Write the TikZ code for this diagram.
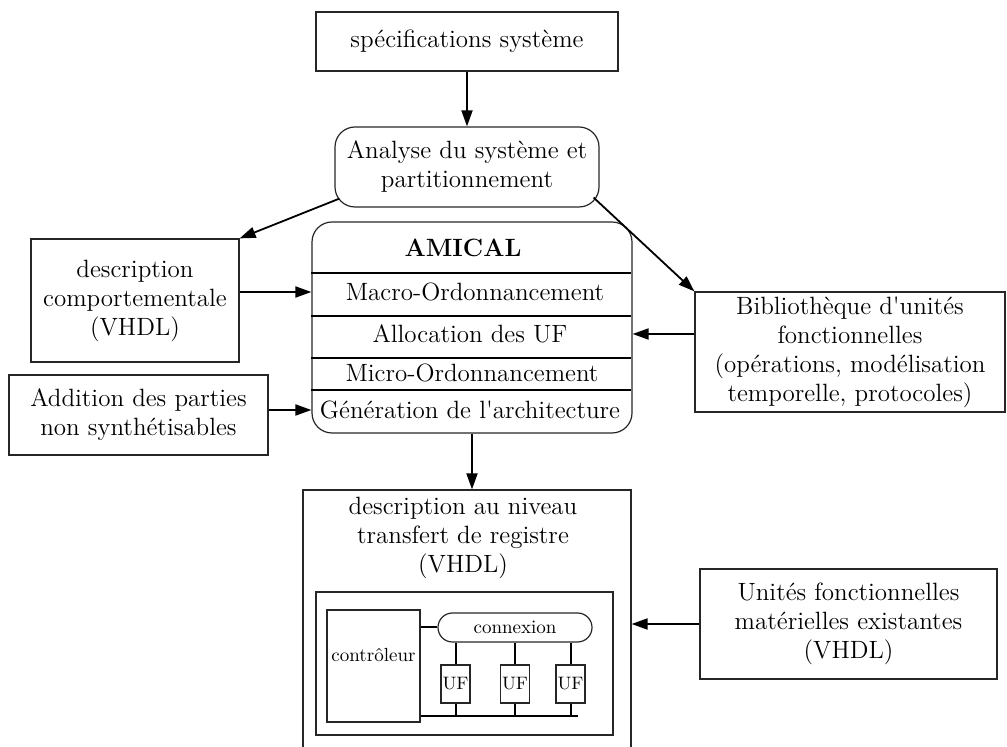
\documentclass[tikz,border=0pt]{standalone}
\usepackage{tikz}
\usetikzlibrary{arrows.meta,shapes}
\usepackage{amsmath}

\tikzset{
	box/.style={draw=black!85, line width=0.6pt, align=center, inner sep=0pt, font=\fontsize{12.5}{14.5}\selectfont},
	rbox/.style={box, rounded corners=10pt},
	txt/.style={align=center, inner sep=0pt, font=\fontsize{12.5}{14.5}\selectfont},
	smallf/.style={font=\fontsize{9.5}{11}\selectfont},
	arr/.style={-{Triangle[length=8pt,width=5.5pt]}, line width=0.9pt},
	sepline/.style={line width=1pt},
}

\begin{document}
\begin{tikzpicture}[x=0.5pt, y=-0.5pt]
	\useasboundingbox (0,0) rectangle (1007,747);
	\clip (0,0) rectangle (1007,747);

	\node[box, minimum width=151pt, minimum height=29.5pt] (spec) at (467,41.5) {spécifications système} ; %
	\node[rbox, minimum width=132pt, minimum height=40pt] (analyse) at (467,167) {Analyse du système et\\partitionnement};
	\node[box, minimum width=104pt, minimum height=61.5pt] (desc) at (135,300.5) {description\\comportementale\\(VHDL)};
	\node[box, minimum width=129.5pt, minimum height=40pt] (addit) at (138.5,415) {Addition des parties\\non synthétisables};
	\node[box, minimum width=155pt, minimum height=60pt] (biblio) at (850,352) {Bibliothèque d\textquotesingle unités\\fonctionnelles\\(opérations, modélisation\\temporelle, protocoles)};
	\node[box, minimum width=148.5pt, minimum height=55pt] (unites) at (848.5,624) {Unités fonctionnelles\\matérielles existantes\\(VHDL)};

	% AMICAL
	\node[rbox, minimum width=160pt, minimum height=105.5pt] (amical) at (472,327.5) {};
	\node[txt, font=\fontsize{12.5}{14.5}\selectfont\bfseries] (amtitle) at (463,248) {AMICAL};
	\node[txt] (macro) at (475,292) {Macro-Ordonnancement};
	\node[txt] (alloc) at (470,334) {Allocation des UF};
	\node[txt] (micro) at (472,373) {Micro-Ordonnancement};
	\node[txt] (gen) at (470,410) {Génération de l\textquotesingle architecture};
	\foreach \y in {273,316,358,390}
		\draw[sepline] (amical.west |- 0,\y) -- (631,\y);

	% transfert de registre
	\node[box, minimum width=164pt, minimum height=135pt] (rtl) at (467,625) {};
	\node[txt] (rtltxt) at (463,538) {description au niveau\\transfert de registre\\(VHDL)};
	\node[box, minimum width=148.5pt, minimum height=71.5pt] (inner) at (464.5,663.5) {};
	\node[box, minimum width=46.5pt, minimum height=56pt,
		label={[smallf, yshift=5.5pt]center:contrôleur}] (ctrl) at (373.5,666) {};
	\node[box, smallf, rounded corners=7.25pt, minimum width=77pt, minimum height=14.5pt] (cnx) at (515,627.5) {connexion};
	\foreach \x/\n in {455.5/1, 515/2, 570.5/3}
		\node[box, font=\fontsize{9}{11}\selectfont, minimum width=14.5pt, minimum height=19pt] (uf\n) at (\x,684) {UF};
	\coordinate (bus) at (578,716);

	\draw[sepline] (ctrl.east |- cnx.west) -- (cnx.west);
	\draw[sepline] (ctrl.east |- bus) -- (bus);
	\foreach \n in {1,2,3} {
		\draw[sepline] (cnx.south -| uf\n.north) -- (uf\n.north);
		\draw[sepline] (uf\n.south) -- (uf\n.south |- bus);
	}

	% fleches
	\draw[arr] (spec) -- (analyse);
	\draw[arr] ([xshift=2.5pt,yshift=4.5pt]analyse.south west) -- (desc.north east);
	\draw[arr] ([xshift=-3pt,yshift=5pt]analyse.south east) -- (biblio.north west);
	\draw[arr] (desc.east |- macro) -- (amical.west |- macro);
	\draw[arr] (addit.east |- gen) -- (amical.west |- gen);
	\draw[arr] (biblio.west |- alloc) -- (amical.east |- alloc);
	\draw[arr] (amical.south) -- (amical.south |- rtl.north);
	\draw[arr] (unites.west) -- (unites.west -| rtl.east);
\end{tikzpicture}
\end{document}
